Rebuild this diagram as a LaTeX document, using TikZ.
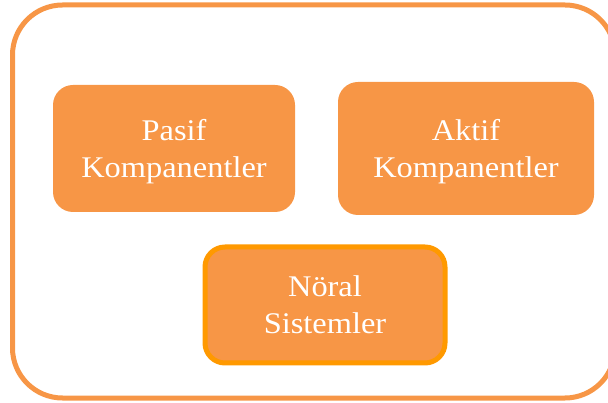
\documentclass[tikz,border=0pt]{standalone}
\usepackage{fontspec}
\setmainfont{Liberation Serif}
\newfontfamily\boxfont[FakeStretch=1.08]{Liberation Serif}
\definecolor{boxorange}{HTML}{F79646}
\definecolor{rimorange}{HTML}{FF9900}
\begin{document}
\begin{tikzpicture}[x=1pt,y=-1pt]
	\tikzstyle{frame}=[draw=boxorange,line width=5pt,rounded corners=50pt]
	\tikzstyle{part}=[fill=boxorange,rounded corners=20pt,text=white,align=center,
		font=\boxfont\fontsize{30}{37}\selectfont,inner sep=0pt,text depth=0pt]
	\tikzstyle{core}=[part,draw=rimorange,line width=5pt]
	\useasboundingbox (0,0) rectangle (608,403);
	\clip (0,0) rectangle (608,403);

	\draw[frame] (12.5,5) rectangle (615,398);

	\node[part,minimum width=242pt,minimum height=127pt] (pasif) at (174,148.5) {Pasif\\Kompanentler};
	\node[part,minimum width=256pt,minimum height=133pt] (aktif) at (466,148.5) {Aktif\\Kompanentler};
	\node[core,minimum width=240pt,minimum height=116pt] (noral) at (325,305) {N\"oral\\Sistemler};
\end{tikzpicture}
\end{document}
